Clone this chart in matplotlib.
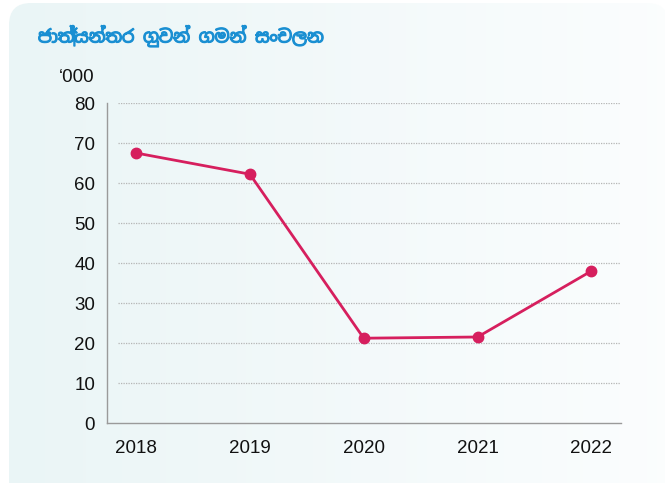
import numpy as np
import matplotlib
matplotlib.use("Agg")
import matplotlib.pyplot as plt
from matplotlib import font_manager
from matplotlib.patches import FancyBboxPatch
import matplotlib.patheffects as pe

# data (thousands)
years = ["2018", "2019", "2020", "2021", "2022"]
movements = [67.5, 62.2, 21.2, 21.5, 38.0]
y_ticks = [0, 10, 20, 30, 40, 50, 60, 70, 80]

title = "ජාත්‍යන්තර ගුවන් ගමන් සංචලන"
unit_label = "‘000"

line_color = "#d61f5e"
title_color = "#1a8fd2"

# pick a Sinhala capable font if one is present
names = sorted(set(f.name for f in font_manager.fontManager.ttflist))
sinhala = [n for n in names if "Sinhala" in n or "Iskoola" in n]
title_family = sinhala + ["Liberation Sans", "DejaVu Sans"]

plt.rcParams["font.family"] = ["Liberation Sans", "DejaVu Sans"]

W, H = 665, 483
fig = plt.figure(figsize=(W / 100, H / 100), dpi=100)
fig.patch.set_facecolor("white")

# rounded panel with a soft left-to-right gradient
bg = fig.add_axes([0, 0, 1, 1])
bg.set_xlim(0, W)
bg.set_ylim(H, 0)
bg.axis("off")
grad = np.linspace(0, 1, 256).reshape(1, -1)
c0 = np.array([0.918, 0.961, 0.965])
c1 = np.array([0.985, 0.993, 0.996])
img = c0[None, None, :] * (1 - grad[..., None]) + c1[None, None, :] * grad[..., None]
panel = FancyBboxPatch((9, 3), 660, 500, boxstyle="round,pad=0,rounding_size=22",
                       facecolor="none", edgecolor="none", transform=bg.transData)
bg.add_patch(panel)
im = bg.imshow(img, extent=[9, 665, 503, 3], aspect="auto", zorder=0)
im.set_clip_path(panel)

ax = fig.add_axes([107 / W, 1 - 423 / H, (621 - 107) / W, (423 - 103) / H])
ax.patch.set_alpha(0)
x = np.arange(len(years))
ax.set_xlim(-0.255, 4.26)
ax.set_ylim(0, 80)

ax.hlines(y_ticks[1:], -0.16, 4.26, colors="#b5b5b5", linestyles=(0, (1, 1)), linewidth=0.9, zorder=1)
ax.plot(x, movements, color=line_color, linewidth=2.0, marker="o", markersize=7.5, zorder=3)

for s in ["top", "right"]:
    ax.spines[s].set_visible(False)
for s in ["left", "bottom"]:
    ax.spines[s].set_color("#9a9a9a")
    ax.spines[s].set_linewidth(1.0)

ax.set_xticks(x)
ax.set_xticklabels(years)
ax.set_yticks(y_ticks)
ax.tick_params(axis="both", length=0, labelsize=13.5, colors="#111111")
ax.tick_params(axis="y", pad=8.5)
ax.tick_params(axis="x", pad=12)

fig.text(95 / W, 1 - 77 / H, unit_label, ha="right", va="center", fontsize=13.5, color="#111111")
t = fig.text(38 / W, 1 - 36 / H, title, ha="left", va="center", fontsize=12.6,
             fontweight="bold", color=title_color, family=title_family)
t.set_path_effects([pe.withStroke(linewidth=0.9, foreground=title_color)])

fig.savefig("out.png", dpi=100)
